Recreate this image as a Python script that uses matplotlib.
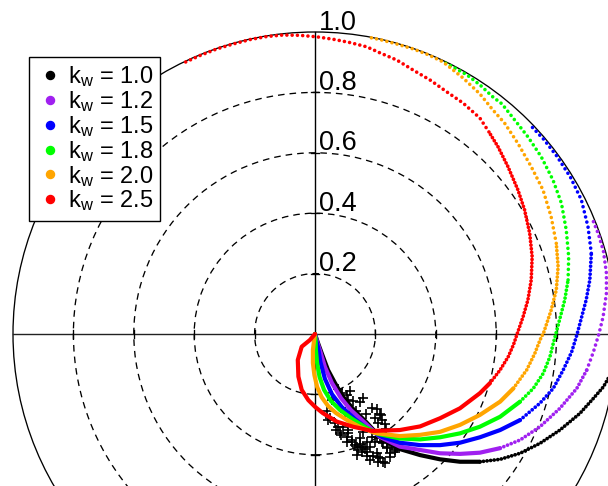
import matplotlib
matplotlib.use("Agg")
import matplotlib.pyplot as plt
from matplotlib.patches import Circle
from matplotlib.lines import Line2D

plt.rcParams['font.family'] = ['Liberation Sans', 'DejaVu Sans']
plt.rcParams['mathtext.fontset'] = 'custom'
plt.rcParams['mathtext.rm'] = 'Liberation Sans'
plt.rcParams['mathtext.it'] = 'Liberation Sans:italic'

# ---- data -------------------------------------------------------------
kw_values = [1.0, 1.2, 1.5, 1.8, 2.0, 2.5]
colors = ['#000000', '#A020F0', '#0000FF', '#00FF00', '#FFA500', '#FF0000']
grid_radii = [0.2, 0.4, 0.6, 0.8]
radius_labels = ['0.2', '0.4', '0.6', '0.8', '1.0']

kw10_x = [0, 0.010, 0.022, 0.043, 0.066, 0.093, 0.126, 0.169, 0.222, 0.281,
          0.348, 0.414, 0.480, 0.546, 0.613, 0.679, 0.745, 0.811, 0.877, 0.922,
          0.955, 0.983, 0.993]
kw10_y = [0, -0.030, -0.063, -0.119, -0.162, -0.208, -0.248, -0.291, -0.348, -0.381,
          -0.401, -0.415, -0.423, -0.423, -0.415, -0.395, -0.362, -0.318, -0.263, -0.213,
          -0.175, -0.126, -0.060]

kw12_x = [0, 0.007, 0.017, 0.033, 0.056, 0.086, 0.119, 0.162, 0.215, 0.281,
          0.348, 0.414, 0.480, 0.546, 0.613, 0.679, 0.745, 0.811, 0.867, 0.900,
          0.922, 0.940, 0.954, 0.965, 0.965, 0.955, 0.938, 0.918]
kw12_y = [0, -0.026, -0.056, -0.109, -0.162, -0.212, -0.252, -0.291, -0.341, -0.373,
          -0.384, -0.395, -0.397, -0.393, -0.378, -0.351, -0.307, -0.246, -0.180, -0.119,
          -0.059, 0.0, 0.057, 0.135, 0.201, 0.275, 0.332, 0.382]

kw15_x = [0, 0.003, 0.010, 0.018, 0.033, 0.056, 0.089, 0.132, 0.175, 0.222,
          0.281, 0.348, 0.414, 0.480, 0.546, 0.613, 0.679, 0.745, 0.789, 0.822,
          0.850, 0.868, 0.898, 0.910, 0.915, 0.904, 0.882, 0.846, 0.800, 0.757,
          0.720]
kw15_y = [0, -0.020, -0.043, -0.093, -0.149, -0.199, -0.242, -0.281, -0.315, -0.341,
          -0.360, -0.368, -0.368, -0.360, -0.342, -0.318, -0.285, -0.229, -0.180, -0.119,
          -0.059, 0.0, 0.113, 0.179, 0.267, 0.355, 0.444, 0.519, 0.590, 0.645,
          0.684]

kw18_x = [0, 0.002, 0.003, 0.007, 0.015, 0.030, 0.053, 0.083, 0.123, 0.166,
          0.209, 0.281, 0.348, 0.414, 0.480, 0.546, 0.613, 0.679, 0.723, 0.756,
          0.778, 0.789, 0.801, 0.827, 0.838, 0.840, 0.832, 0.816, 0.788, 0.749,
          0.705, 0.661, 0.619, 0.589, 0.546, 0.503, 0.457, 0.424]
kw18_y = [0, -0.020, -0.053, -0.096, -0.142, -0.185, -0.222, -0.252, -0.281, -0.308,
          -0.331, -0.346, -0.349, -0.342, -0.329, -0.307, -0.274, -0.224, -0.180, -0.130,
          -0.075, -0.031, 0.013, 0.113, 0.179, 0.256, 0.344, 0.433, 0.510, 0.587,
          0.653, 0.709, 0.762, 0.785, 0.825, 0.858, 0.884, 0.901]

kw20_x = [0, -0.003, -0.007, -0.007, -0.002, 0.007, 0.022, 0.043, 0.070, 0.106,
          0.149, 0.199, 0.281, 0.348, 0.414, 0.480, 0.546, 0.613, 0.657, 0.701,
          0.728, 0.745, 0.758, 0.782, 0.799, 0.805, 0.799, 0.782, 0.755, 0.716,
          0.672, 0.628, 0.589, 0.546, 0.490, 0.424, 0.374, 0.325, 0.268, 0.215,
          0.175]
kw20_y = [0, -0.020, -0.053, -0.096, -0.136, -0.175, -0.209, -0.238, -0.262, -0.285,
          -0.308, -0.328, -0.338, -0.334, -0.324, -0.301, -0.268, -0.224, -0.180, -0.119,
          -0.064, -0.020, 0.007, 0.079, 0.146, 0.223, 0.300, 0.388, 0.477, 0.554,
          0.631, 0.698, 0.742, 0.795, 0.848, 0.901, 0.925, 0.944, 0.961, 0.975,
          0.983]

kw25_x = [0, -0.017, -0.044, -0.057, -0.055, -0.044, -0.022, 0.0, 0.026, 0.072,
          0.126, 0.189, 0.281, 0.348, 0.414, 0.480, 0.546, 0.579, 0.613, 0.640,
          0.657, 0.670, 0.689, 0.705, 0.716, 0.719, 0.711, 0.694, 0.672, 0.639,
          0.606, 0.576, 0.546, 0.490, 0.436, 0.381, 0.325, 0.271, 0.215, 0.171,
          0.116, 0.060, 0.006, -0.050, -0.106, -0.160, -0.215, -0.272, -0.325, -0.381,
          -0.441]
kw25_y = [0, -0.020, -0.042, -0.086, -0.141, -0.185, -0.219, -0.241, -0.262, -0.290,
          -0.307, -0.321, -0.318, -0.306, -0.279, -0.246, -0.196, -0.163, -0.119, -0.075,
          -0.036, 0.002, 0.057, 0.113, 0.179, 0.256, 0.333, 0.411, 0.477, 0.554,
          0.620, 0.669, 0.715, 0.765, 0.802, 0.841, 0.874, 0.907, 0.931, 0.951,
          0.965, 0.976, 0.984, 0.989, 0.990, 0.985, 0.975, 0.960, 0.944, 0.922,
          0.895]

# measured points
obs_x = [0.076, 0.089, 0.106, 0.116, 0.109, 0.126, 0.149, 0.159, 0.189, 0.205,
         0.215, 0.222, 0.209, 0.199, 0.050, 0.040, 0.066, 0.093, 0.083, 0.106,
         0.123, 0.149, 0.166, 0.182, 0.205, 0.215, 0.232, 0.209, 0.248, 0.265,
         0.272, 0.238, 0.189, 0.159, 0.139, 0.149, 0.109, 0.172, 0.199, 0.215,
         0.225, 0.255, 0.232, 0.219, 0.076, 0.123, 0.242, 0.255, 0.182, 0.192,
         0.225, 0.156, 0.139, 0.172, 0.209, 0.172, 0.159, 0.142, 0.132, 0.106,
         0.086, 0.109, 0.070, 0.043, 0.238, 0.265, 0.248, 0.222, 0.205, 0.272,
         0.136, 0.169, 0.235, 0.056, 0.099]
obs_y = [-0.182, -0.195, -0.202, -0.189, -0.219, -0.222, -0.225, -0.212, -0.245, -0.248,
         -0.265, -0.285, -0.295, -0.278, -0.278, -0.255, -0.295, -0.308, -0.328, -0.341,
         -0.358, -0.364, -0.381, -0.374, -0.394, -0.411, -0.427, -0.424, -0.394, -0.384,
         -0.368, -0.377, -0.341, -0.325, -0.374, -0.344, -0.318, -0.358, -0.358, -0.344,
         -0.361, -0.368, -0.298, -0.268, -0.308, -0.351, -0.344, -0.351, -0.417, -0.404,
         -0.424, -0.391, -0.401, -0.391, -0.407, -0.404, -0.374, -0.384, -0.368, -0.358,
         -0.334, -0.328, -0.318, -0.285, -0.374, -0.391, -0.407, -0.358, -0.341, -0.377,
         -0.255, -0.265, -0.315, -0.219, -0.258]

curves = [(kw10_x, kw10_y), (kw12_x, kw12_y), (kw15_x, kw15_y),
          (kw18_x, kw18_y), (kw20_x, kw20_y), (kw25_x, kw25_y)]

# stroke style per curve: last vertex of the solid stroke, vertex where the
# dots become sparse (None = never), dot gap of the middle stretch
stroke_style = [(13, None, 0.95), (14, 19, 1.05), (16, 24, 1.05),
                (17, 24, 1.05), (18, 26, 1.0), (17, 31, 0.95)]

# ---- figure -----------------------------------------------------------
fig = plt.figure(figsize=(6.08, 4.86), dpi=100)
ax = fig.add_axes([0, 0, 1, 1])
ax.set_xlim(-315 / 302, 293 / 302)
ax.set_ylim(-152 / 302, 334 / 302)
ax.axis('off')

# polar grid
for r in grid_radii:
    ax.add_patch(Circle((0, 0), r, fill=False, ec='black', lw=0.95,
                        ls=(0, (5.0, 3.8)), zorder=1))
ax.add_patch(Circle((0, 0), 1.0, fill=False, ec='black', lw=0.95, zorder=1))
ax.plot([-1, 1], [0, 0], color='#222222', lw=1.0, zorder=1)
ax.plot([0, 0], [-1, 1], color='black', lw=1.0, zorder=1)
t = 0.012
for r in grid_radii:
    for s in (-1, 1):
        ax.plot([s * r, s * r], [-t, t], color='black', lw=0.95, zorder=1)
        ax.plot([-t, t], [s * r, s * r], color='black', lw=0.95, zorder=1)

for r, lab in zip(grid_radii + [1.0], radius_labels):
    ax.text(0.012, r + 0.008, lab, ha='left', va='baseline', fontsize=19.5,
            color='black', zorder=5)

# measured points
ax.plot(obs_x, obs_y, ls='none', marker='+', ms=6.5, mew=1.2, color='black', zorder=2)

# model curves
for (xs, ys), col, (b1, b2, gap) in zip(curves, colors, stroke_style):
    ax.plot(xs[:b1 + 1], ys[:b1 + 1], color=col, lw=3.0,
            solid_capstyle='round', solid_joinstyle='round', zorder=3)
    end = b2 if b2 is not None else len(xs) - 1
    ax.plot(xs[b1:end + 1], ys[b1:end + 1], color=col, lw=2.7,
            ls=(0, (0.01, gap)), dash_capstyle='round', zorder=3)
    if b2 is not None:
        ax.plot(xs[b2:], ys[b2:], color=col, lw=2.6,
                ls=(0, (0.01, 1.45)), dash_capstyle='round', zorder=3)

# legend
handles = [Line2D([], [], ls='none', marker='o', ms=5.8, color=c, mec=c)
           for c in colors]
labels = [r'$\mathrm{k_w}$ = %.1f' % k for k in kw_values]
leg = ax.legend(handles, labels, loc='upper left',
                bbox_to_anchor=(29 / 608, 1 - 57 / 486),
                bbox_transform=fig.transFigure, borderaxespad=0,
                frameon=True, fancybox=False, framealpha=1, edgecolor='black',
                fontsize=17, handlelength=1.2, handletextpad=0.15,
                borderpad=0.3, labelspacing=0.0)
leg.get_frame().set_linewidth(1.0)
leg.set_zorder(10)

fig.savefig('out.png', dpi=100)
